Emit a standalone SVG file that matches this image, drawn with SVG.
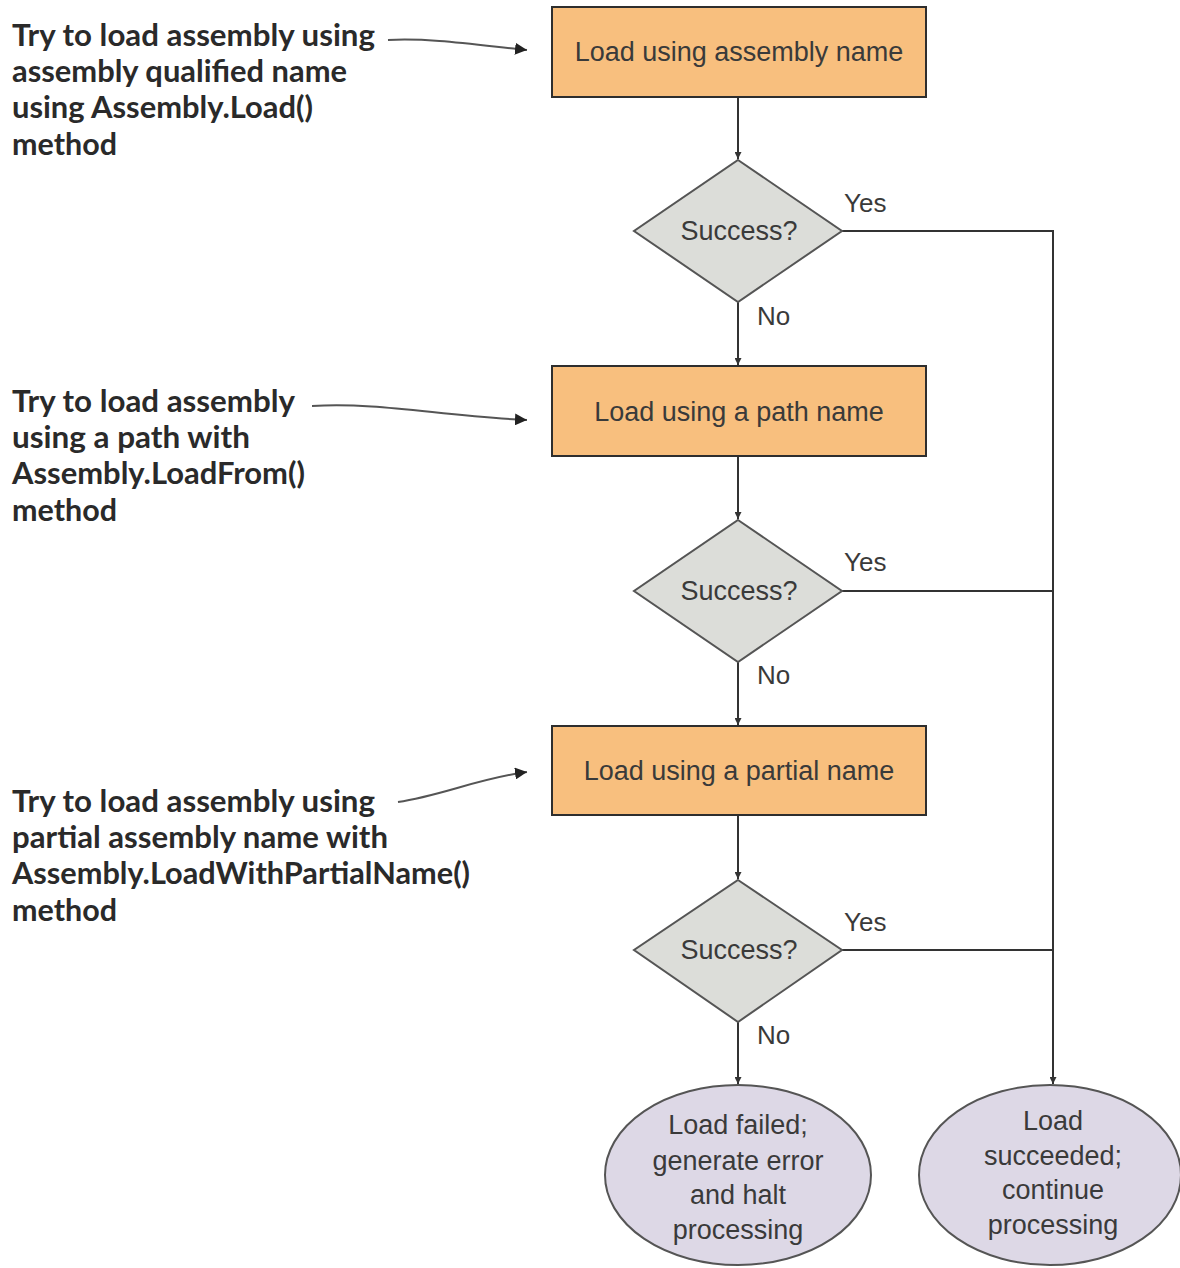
<svg xmlns="http://www.w3.org/2000/svg" width="1180" height="1268" viewBox="0 0 1180 1268">
<style>
.box{fill:#f8bf7e;stroke:#2e2e2e;stroke-width:2}
.dia{fill:#dcddd9;stroke:#555;stroke-width:2}
.ell{fill:#ddd8e6;stroke:#555;stroke-width:2}
.t{font-family:"Liberation Sans",Arial,sans-serif;font-size:27px;fill:#3a3a3a;text-anchor:middle}
.lbl{font-family:"Liberation Sans",Arial,sans-serif;font-size:26px;fill:#3a3a3a}
.ann{font-family:Lato,"Liberation Sans",sans-serif;font-weight:bold;font-size:30px;fill:#2a2a2a}
.ln{fill:none;stroke:#333;stroke-width:2}
.cv{fill:none;stroke:#555;stroke-width:2}
</style>
<defs>
<marker id="ah" viewBox="0 0 10 10" refX="10" refY="5" markerWidth="7" markerHeight="7" markerUnits="userSpaceOnUse" orient="auto"><path d="M0,0 L10,5 L0,10 z" fill="#333"/></marker>
<marker id="ah2" viewBox="0 0 10 10" refX="10" refY="5" markerWidth="12" markerHeight="12" markerUnits="userSpaceOnUse" orient="auto"><path d="M0,0 L10,5 L0,10 z" fill="#222"/></marker>
</defs>
<rect width="1180" height="1268" fill="#fff"/>
<g id="connectors">
<line class="ln" x1="738" y1="97" x2="738" y2="159" marker-end="url(#ah)"/>
<line class="ln" x1="738" y1="302" x2="738" y2="365" marker-end="url(#ah)"/>
<line class="ln" x1="738" y1="456" x2="738" y2="519" marker-end="url(#ah)"/>
<line class="ln" x1="738" y1="662" x2="738" y2="725" marker-end="url(#ah)"/>
<line class="ln" x1="738" y1="815" x2="738" y2="879" marker-end="url(#ah)"/>
<line class="ln" x1="738" y1="1022" x2="738" y2="1084" marker-end="url(#ah)"/>
<polyline class="ln" points="842,231 1053,231 1053,1084" marker-end="url(#ah)"/>
<line class="ln" x1="842" y1="591" x2="1053" y2="591"/>
<line class="ln" x1="842" y1="950" x2="1053" y2="950"/>
<path class="cv" d="M388,40 C430,38 470,44 527,50" marker-end="url(#ah2)"/>
<path class="cv" d="M312,406 C380,402 440,416 527,420" marker-end="url(#ah2)"/>
<path class="cv" d="M398,802 C440,796 480,778 527,772" marker-end="url(#ah2)"/>
<text class="lbl" x="844" y="212">Yes</text>
<text class="lbl" x="757" y="325">No</text>
<text class="lbl" x="844" y="571">Yes</text>
<text class="lbl" x="757" y="684">No</text>
<text class="lbl" x="844" y="931">Yes</text>
<text class="lbl" x="757" y="1044">No</text>
</g>
<g id="note1">
<text class="ann" x="12" y="46" textLength="363" lengthAdjust="spacingAndGlyphs">Try to load assembly using</text>
<text class="ann" x="12" y="82" textLength="335" lengthAdjust="spacingAndGlyphs">assembly qualified name</text>
<text class="ann" x="12" y="118" textLength="301" lengthAdjust="spacingAndGlyphs">using Assembly.Load()</text>
<text class="ann" x="12" y="155" textLength="105" lengthAdjust="spacingAndGlyphs">method</text>
</g>
<g id="note2">
<text class="ann" x="12" y="412" textLength="283" lengthAdjust="spacingAndGlyphs">Try to load assembly</text>
<text class="ann" x="12" y="448" textLength="238" lengthAdjust="spacingAndGlyphs">using a path with</text>
<text class="ann" x="12" y="484" textLength="293" lengthAdjust="spacingAndGlyphs">Assembly.LoadFrom()</text>
<text class="ann" x="12" y="521" textLength="105" lengthAdjust="spacingAndGlyphs">method</text>
</g>
<g id="note3">
<text class="ann" x="12" y="812" textLength="363" lengthAdjust="spacingAndGlyphs">Try to load assembly using</text>
<text class="ann" x="12" y="848" textLength="376" lengthAdjust="spacingAndGlyphs">partial assembly name with</text>
<text class="ann" x="12" y="884" textLength="458" lengthAdjust="spacingAndGlyphs">Assembly.LoadWithPartialName()</text>
<text class="ann" x="12" y="921" textLength="105" lengthAdjust="spacingAndGlyphs">method</text>
</g>
<g id="box1"><rect class="box" x="552" y="7" width="374" height="90"/><text class="t" x="739" y="61">Load using assembly name</text></g>
<g id="dec1"><polygon class="dia" points="738,160 842,231 738,302 634,231"/><text class="t" x="739" y="240">Success?</text></g>
<g id="box2"><rect class="box" x="552" y="366" width="374" height="90"/><text class="t" x="739" y="421">Load using a path name</text></g>
<g id="dec2"><polygon class="dia" points="738,520 842,591 738,662 634,591"/><text class="t" x="739" y="600">Success?</text></g>
<g id="box3"><rect class="box" x="552" y="726" width="374" height="89"/><text class="t" x="739" y="780">Load using a partial name</text></g>
<g id="dec3"><polygon class="dia" points="738,880 842,950 738,1022 634,950"/><text class="t" x="739" y="959">Success?</text></g>
<g id="fail"><ellipse class="ell" cx="738" cy="1175" rx="133" ry="90"/>
<text class="t" x="738" y="1134">Load failed;</text>
<text class="t" x="738" y="1170">generate error</text>
<text class="t" x="738" y="1204">and halt</text>
<text class="t" x="738" y="1239">processing</text></g>
<g id="ok"><ellipse class="ell" cx="1050" cy="1175" rx="131" ry="90"/>
<text class="t" x="1053" y="1130">Load</text>
<text class="t" x="1053" y="1165">succeeded;</text>
<text class="t" x="1053" y="1199">continue</text>
<text class="t" x="1053" y="1234">processing</text></g>
</svg>
